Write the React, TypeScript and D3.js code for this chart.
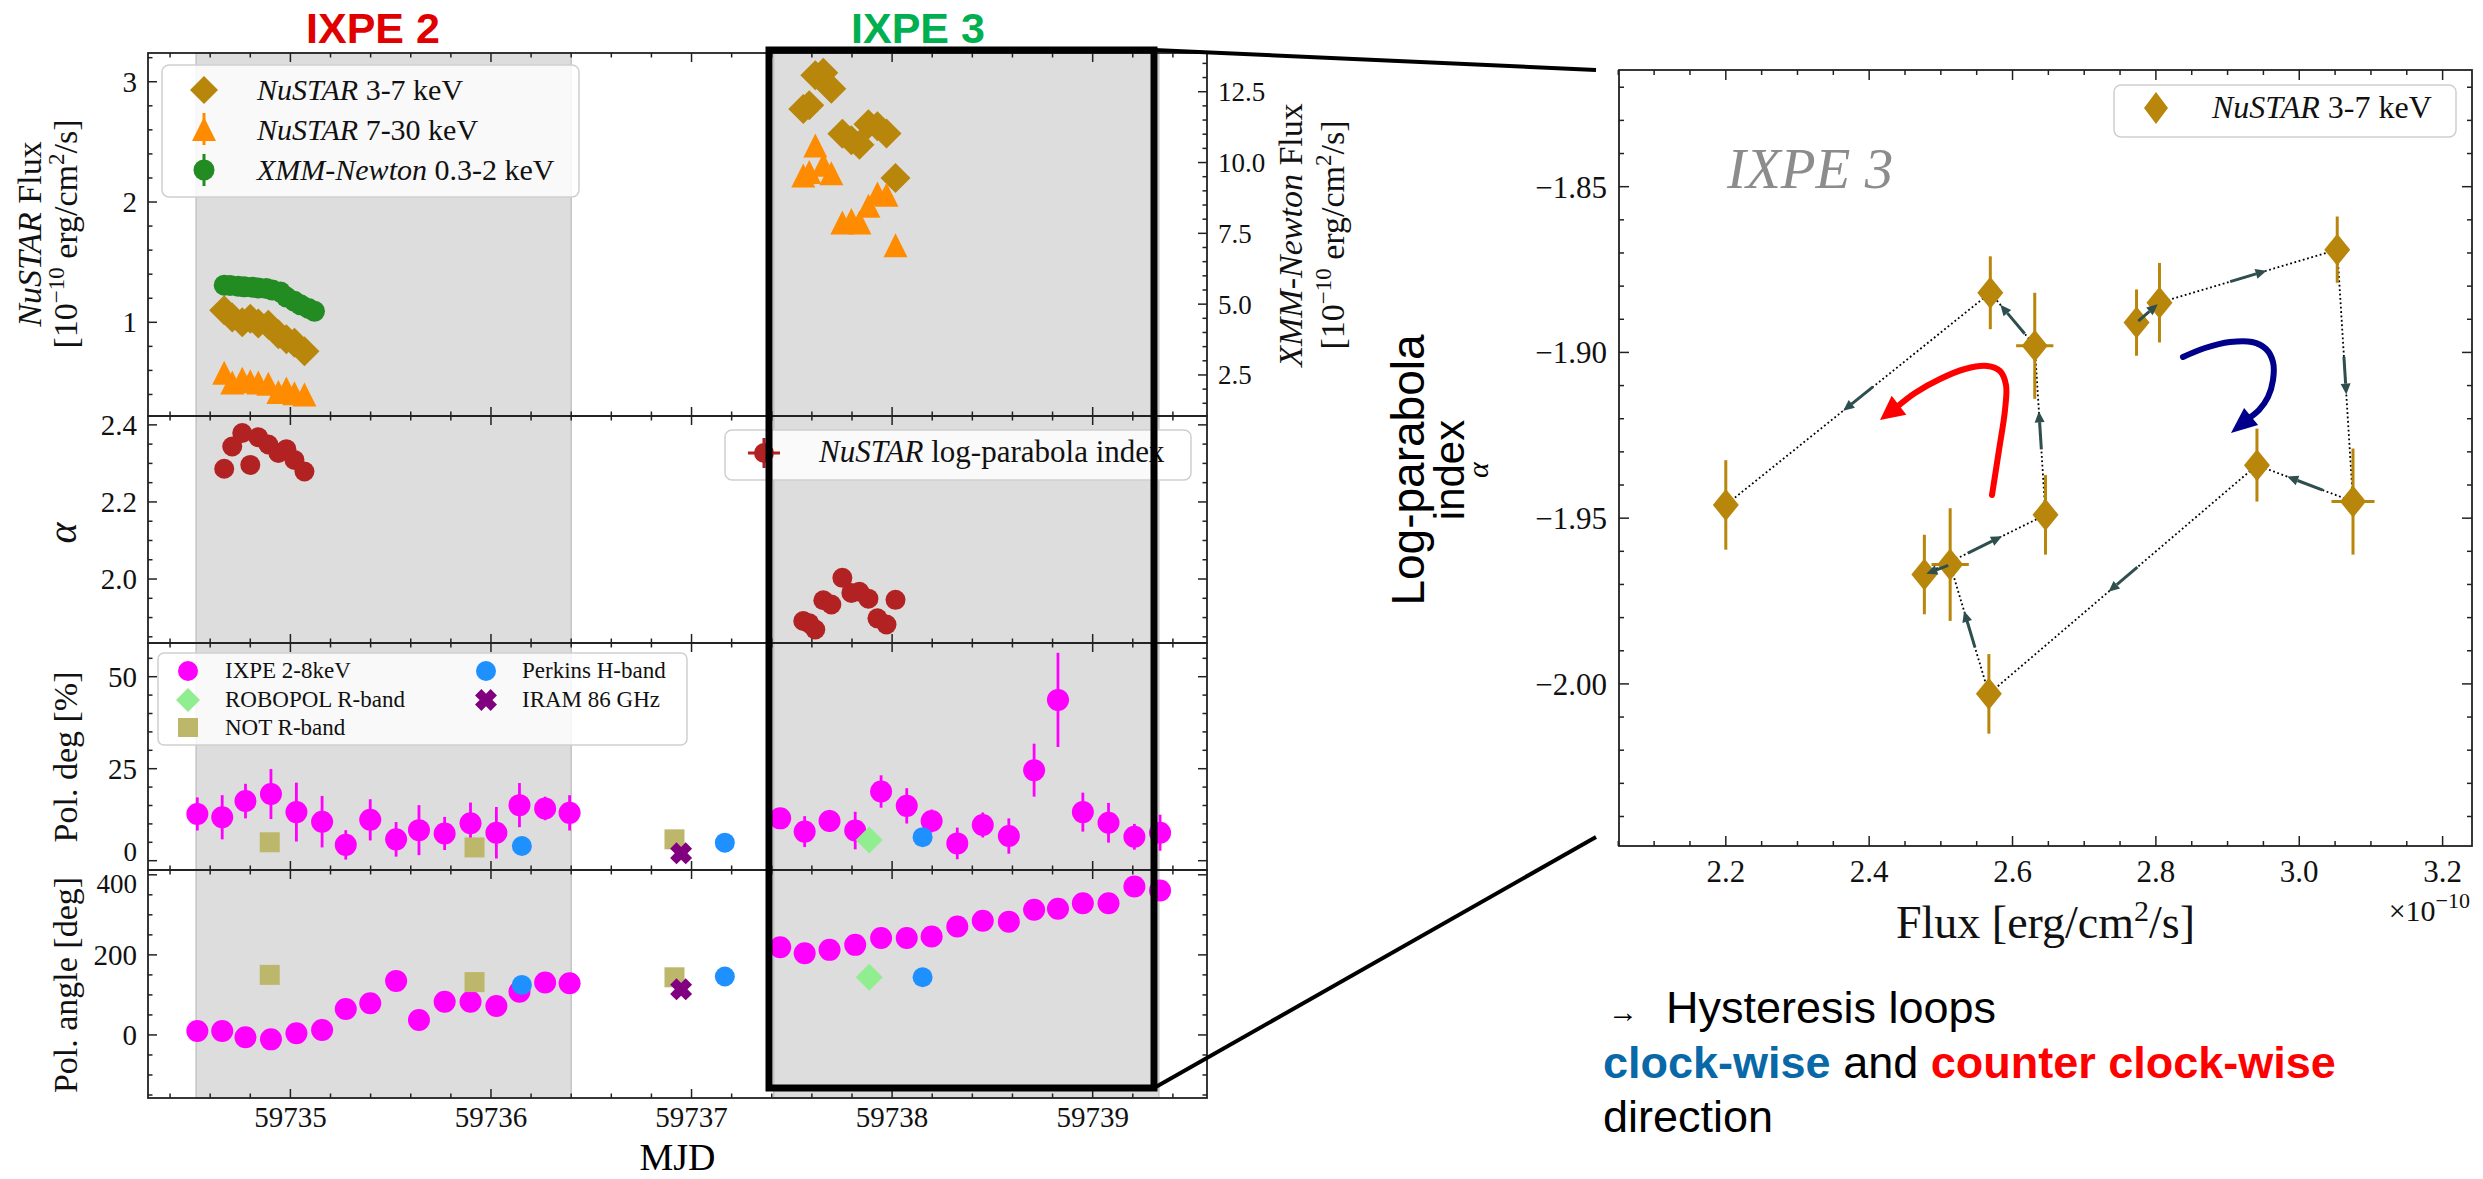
import React from "react";
import * as d3 from "d3";

const W = 2483;
const H = 1179;
const SERIF = "'Liberation Serif','Times New Roman',serif";
const SANS = "'Liberation Sans',Arial,Helvetica,sans-serif";
const AX = "#222";

// ---------------- data ----------------
// NuSTAR during IXPE 2
const nu2Time = [59734.67, 59734.71, 59734.76, 59734.80, 59734.84, 59734.89, 59734.94, 59734.98, 59735.02, 59735.07];
const nu2Flux37 = [1.10, 1.04, 1.00, 1.03, 0.99, 0.98, 0.90, 0.86, 0.83, 0.76];
const nu2Flux730 = [0.58, 0.50, 0.53, 0.51, 0.50, 0.49, 0.42, 0.45, 0.41, 0.40];
const nu2Alpha = [2.286, 2.344, 2.379, 2.296, 2.368, 2.349, 2.327, 2.337, 2.309, 2.279];

// XMM-Newton during IXPE 2 (right axis)
const xmmTime = [59734.67, 59734.70, 59734.74, 59734.77, 59734.81, 59734.84, 59734.88, 59734.91, 59734.95, 59734.98, 59735.02, 59735.05, 59735.09, 59735.12];
const xmmFlux = [5.67, 5.66, 5.63, 5.61, 5.60, 5.57, 5.55, 5.50, 5.43, 5.25, 5.10, 4.98, 4.85, 4.75];

// NuSTAR during IXPE 3 (time ordered)
const nu3Time = [59737.557, 59737.587, 59737.617, 59737.657, 59737.697, 59737.752, 59737.797, 59737.837, 59737.882, 59737.927, 59737.972, 59738.017];
const nu3Flux37 = [2.773, 2.805, 3.053, 3.075, 2.941, 2.567, 2.513, 2.477, 2.646, 2.631, 2.569, 2.200];
const nu3Flux37Err = [0.015, 0.015, 0.015, 0.03, 0.015, 0.015, 0.026, 0.015, 0.015, 0.026, 0.015, 0.015];
const nu3Flux730 = [2.22, 2.25, 2.47, 2.31, 2.24, 1.83, 1.85, 1.83, 1.97, 2.07, 2.06, 1.64];
const nu3Alpha = [1.891, 1.885, 1.869, 1.945, 1.934, 2.003, 1.964, 1.967, 1.949, 1.898, 1.882, 1.946];
const nu3AlphaErr = [0.010, 0.012, 0.010, 0.016, 0.011, 0.012, 0.017, 0.012, 0.012, 0.016, 0.011, 0.0135];

// IXPE polarization
const ixpeTime = [59734.536, 59734.66, 59734.776, 59734.903, 59735.03, 59735.158, 59735.276, 59735.398, 59735.527, 59735.641, 59735.769, 59735.898, 59736.027, 59736.142, 59736.27, 59736.392,
  59737.442, 59737.564, 59737.688, 59737.816, 59737.945, 59738.073, 59738.197, 59738.325, 59738.452, 59738.582, 59738.708, 59738.827, 59738.951, 59739.079, 59739.208, 59739.336];
const ixpeDeg = [12.7, 11.8, 16.2, 18.1, 13.2, 10.6, 4.3, 11.1, 5.8, 8.3, 7.4, 10.2, 7.6, 15.1, 14.2, 13.0,
  11.5, 7.9, 10.8, 8.2, 18.8, 14.9, 10.8, 4.7, 9.7, 6.7, 24.6, 43.7, 13.2, 10.3, 6.5, 7.6];
const ixpeDegErr = [4.5, 6, 4.7, 6.8, 8, 7, 4, 5.6, 4.7, 6.8, 4.5, 5.6, 7, 6, 3.2, 4.8,
  2.7, 4.2, 3, 5.1, 4.4, 4.8, 3.1, 4.3, 3.4, 4.8, 7.2, 12.8, 5.3, 5.4, 3.5, 4.9];
const ixpeAngle = [10, 10, -6, -11, 4, 12.5, 65, 79, 135, 37.5, 83, 83, 72.5, 108, 131, 129,
  219, 204, 212.5, 225, 242, 242, 246, 271, 285, 283, 312.5, 315, 329, 329, 371, 361];

// other polarization data
const robopolTime = [59737.886];
const robopolDeg = [5.6];
const robopolAngle = [144];
const notTime = [59734.897, 59735.918, 59736.915];
const notDeg = [5.0, 3.6, 5.8];
const notAngle = [150, 132, 144];
const perkinsTime = [59736.154, 59737.166, 59738.152];
const perkinsDeg = [4.0, 4.9, 6.4];
const perkinsAngle = [125, 146, 144];
const iramTime = [59736.948];
const iramDeg = [2.0];
const iramAngle = [114];

// IXPE windows
const ixpeWindows = [[59734.53, 59736.40], [59737.41, 59739.33]];

// tick labels
const mjdTicks = [59735, 59736, 59737, 59738, 59739];
const nuTicks = [1, 2, 3];
const xmmTicks = [2.5, 5.0, 7.5, 10.0, 12.5];
const alphaTicks = [2.0, 2.2, 2.4];
const degTicks = [0, 25, 50];
const angTicks = [0, 200, 400];
const fluxTicks = [2.2, 2.4, 2.6, 2.8, 3.0, 3.2];
const hystTicks = [-2.0, -1.95, -1.9, -1.85];

// ---------------- scales ----------------
const LX0 = 148, LX1 = 1207;
const P = [53, 416, 643, 870, 1098];
const xM = d3.scaleLinear().domain([59734.29, 59739.57]).range([LX0, LX1]);
const yNu = d3.scaleLinear().domain([0.221, 3.239]).range([P[1], P[0]]);
const yXmm = d3.scaleLinear().domain([1.051, 13.867]).range([P[1], P[0]]);
const yAl = d3.scaleLinear().domain([1.834, 2.423]).range([P[2], P[1]]);
const yDeg = d3.scaleLinear().domain([-2.53, 59.16]).range([P[3], P[2]]);
const yAng = d3.scaleLinear().domain([-157.5, 412]).range([P[4], P[3]]);

const RX0 = 1619, RX1 = 2472, RY0 = 70, RY1 = 846;
const xF = d3.scaleLinear().domain([2.051, 3.241]).range([RX0, RX1]);
const yA = d3.scaleLinear().domain([-2.0489, -1.8148]).range([RY1, RY0]);

// ---------------- helpers ----------------
const diamond = (cx: number, cy: number, w: number, h: number) =>
  `M${cx},${cy - h / 2}L${cx + w / 2},${cy}L${cx},${cy + h / 2}L${cx - w / 2},${cy}Z`;
const triangle = (cx: number, cy: number, s: number) =>
  `M${cx},${cy - s / 2}L${cx + s / 2},${cy + s / 2}L${cx - s / 2},${cy + s / 2}Z`;
const xMarker = (cx: number, cy: number, r: number, a: number) => {
  const pts = [[-a, -r], [a, -r], [a, -a], [r, -a], [r, a], [a, a], [a, r], [-a, r], [-a, a], [-r, a], [-r, -a], [-a, -a]];
  const c = Math.SQRT1_2;
  return "M" + pts.map(([px, py]) => `${cx + (px - py) * c},${cy + (px + py) * c}`).join("L") + "Z";
};
const minus = (s: string) => s.replace("-", "\u2212");

function minorRange(a: number, b: number, step: number, majors: number[]) {
  const n = Math.round((b - a) / step);
  return d3.range(0, n + 1).map((i) => +(a + i * step).toFixed(4)).filter((v) => !majors.some((m) => Math.abs(m - v) < step / 10));
}

function hTicks(scale: any, vals: number[], y: number, dir: number, len: number, key: string) {
  return vals.map((v, i) => (
    <line key={key + i} x1={scale(v)} x2={scale(v)} y1={y} y2={y + dir * len} stroke={AX} strokeWidth={1.5} />
  ));
}
function vTicks(scale: any, vals: number[], x: number, dir: number, len: number, key: string) {
  return vals.map((v, i) => (
    <line key={key + i} x1={x} x2={x + dir * len} y1={scale(v)} y2={scale(v)} stroke={AX} strokeWidth={1.5} />
  ));
}

function quiver(p: number[], q: number[]) {
  const dx = q[0] - p[0], dy = q[1] - p[1];
  const L = Math.hypot(dx, dy);
  const ux = dx / L, uy = dy / L;
  const la = Math.min(38, L * 0.85);
  const mx = (p[0] + q[0]) / 2, my = (p[1] + q[1]) / 2;
  const sx = mx - (ux * la) / 2, sy = my - (uy * la) / 2;
  const ex = mx + (ux * la) / 2, ey = my + (uy * la) / 2;
  const hl = 11, hw = 5;
  const bx = ex - ux * hl, by = ey - uy * hl;
  return {
    shaft: [sx, sy, bx, by],
    head: `M${ex},${ey}L${bx - uy * hw},${by + ux * hw}L${bx + uy * hw},${by - ux * hw}Z`,
  };
}

function curvedArrow(pts: number[][], tip: number[], hl: number, hw: number) {
  const last = pts[pts.length - 1];
  const dx = tip[0] - last[0], dy = tip[1] - last[1];
  const L = Math.hypot(dx, dy);
  const ux = dx / L, uy = dy / L;
  const bx = tip[0] - ux * hl, by = tip[1] - uy * hl;
  const line = d3.line().curve(d3.curveCatmullRom.alpha(0.5));
  const path = line([...pts, [bx + ux * 2, by + uy * 2]] as any) as string;
  const head = `M${tip[0]},${tip[1]}L${bx - uy * hw},${by + ux * hw}L${bx + uy * hw},${by - ux * hw}Z`;
  return { path, head };
}

const redArrowPts = [[1992, 495], [1999, 450], [2005, 410], [2006, 385], [2000, 371], [1987, 366], [1965, 369], [1940, 379], [1915, 393]];
const blueArrowPts = [[2183, 357], [2205, 348], [2230, 342], [2252, 342], [2266, 349], [2273, 362], [2273, 380], [2268, 397], [2259, 410]];

export default function App() {
  const mjdMinor = minorRange(59734.4, 59739.4, 0.2, mjdTicks);
  const nuMinor = minorRange(0.4, 3.2, 0.2, nuTicks);
  const xmmMinor = minorRange(1.5, 13.5, 0.5, xmmTicks);
  const alMinor = minorRange(1.85, 2.4, 0.05, alphaTicks);
  const degMinor = minorRange(0, 55, 5, degTicks);
  const angMinor = minorRange(-150, 400, 50, angTicks);
  const fMinor = minorRange(2.05, 3.2, 0.05, fluxTicks);
  const hMinor = minorRange(-2.04, -1.82, 0.01, hystTicks);

  const panelYs = [
    { y0: P[0], y1: P[1] },
    { y0: P[1], y1: P[2] },
    { y0: P[2], y1: P[3] },
    { y0: P[3], y1: P[4] },
  ];
  const MAJ = 9, MIN = 4.5;

  // hysteresis screen points
  const hp = nu3Flux37.map((f, i) => [xF(f), yA(-nu3Alpha[i])]);
  const quivers = hp.slice(0, -1).map((p, i) => quiver(p, hp[i + 1]));

  const red = curvedArrow(redArrowPts, [1880, 420], 24, 12);
  const blue = curvedArrow(blueArrowPts, [2231, 433], 26, 11);

  return (
    <div style={{ position: "absolute", left: 0, top: 0, width: W, height: H, background: "#fff" }}>
      <svg width={W} height={H} viewBox={`0 0 ${W} ${H}`} fontFamily={SERIF}>
        <rect width={W} height={H} fill="#fff" />
        <defs>
          {panelYs.map((p, i) => (
            <clipPath id={"clip" + i} key={"cp" + i}>
              <rect x={LX0} y={p.y0} width={LX1 - LX0} height={p.y1 - p.y0} />
            </clipPath>
          ))}
          <clipPath id="clipR">
            <rect x={RX0} y={RY0} width={RX1 - RX0} height={RY1 - RY0} />
          </clipPath>
        </defs>

        {/* IXPE windows */}
        {ixpeWindows.map((w, i) => (
          <rect key={"win" + i} x={xM(w[0])} y={P[0]} width={xM(w[1]) - xM(w[0])} height={P[4] - P[0]}
            fill="#dddddd" stroke="#c4c4c4" strokeWidth={1.5} />
        ))}

        {/* Panel 1: fluxes */}
        <g clipPath="url(#clip0)">
          {nu2Time.concat(nu3Time).map((t, i) => {
            const f = i < nu2Time.length ? nu2Flux37[i] : nu3Flux37[i - nu2Time.length];
            return <path key={"d37" + i} d={diamond(xM(t), yNu(f), 30, 30)} fill="#b8860b" />;
          })}
          {nu2Time.concat(nu3Time).map((t, i) => {
            const f = i < nu2Time.length ? nu2Flux730[i] : nu3Flux730[i - nu2Time.length];
            return <path key={"t730" + i} d={triangle(xM(t), yNu(f), 24)} fill="#ff8c00" />;
          })}
          {xmmTime.map((t, i) => (
            <circle key={"xmm" + i} cx={xM(t)} cy={yXmm(xmmFlux[i])} r={10.5} fill="#228b22" />
          ))}
        </g>

        {/* Panel 2: alpha */}
        <g clipPath="url(#clip1)">
          {nu2Time.concat(nu3Time).map((t, i) => {
            const a = i < nu2Time.length ? nu2Alpha[i] : nu3Alpha[i - nu2Time.length];
            return <circle key={"al" + i} cx={xM(t)} cy={yAl(a)} r={10} fill="#b22222" />;
          })}
        </g>

        {/* Panel 3: pol degree */}
        <g clipPath="url(#clip2)">
          {ixpeTime.map((t, i) => (
            <line key={"de" + i} x1={xM(t)} x2={xM(t)} y1={yDeg(ixpeDeg[i] - ixpeDegErr[i])} y2={yDeg(ixpeDeg[i] + ixpeDegErr[i])}
              stroke="#ff00ff" strokeWidth={2.8} />
          ))}
          {ixpeTime.map((t, i) => (
            <circle key={"dc" + i} cx={xM(t)} cy={yDeg(ixpeDeg[i])} r={11} fill="#ff00ff" />
          ))}
          {robopolTime.map((t, i) => (
            <path key={"rd" + i} d={diamond(xM(t), yDeg(robopolDeg[i]), 27, 27)} fill="#90ee90" />
          ))}
          {notTime.map((t, i) => (
            <rect key={"nd" + i} x={xM(t) - 10} y={yDeg(notDeg[i]) - 10} width={20} height={20} fill="#bdb76b" />
          ))}
          {perkinsTime.map((t, i) => (
            <circle key={"pd" + i} cx={xM(t)} cy={yDeg(perkinsDeg[i])} r={10} fill="#1e90ff" />
          ))}
          {iramTime.map((t, i) => (
            <path key={"id" + i} d={xMarker(xM(t), yDeg(iramDeg[i]), 11, 4.5)} fill="#800080" />
          ))}
        </g>

        {/* Panel 4: pol angle */}
        <g clipPath="url(#clip3)">
          {ixpeTime.map((t, i) => (
            <circle key={"ac" + i} cx={xM(t)} cy={yAng(ixpeAngle[i])} r={11} fill="#ff00ff" />
          ))}
          {robopolTime.map((t, i) => (
            <path key={"ra" + i} d={diamond(xM(t), yAng(robopolAngle[i]), 27, 27)} fill="#90ee90" />
          ))}
          {notTime.map((t, i) => (
            <rect key={"na" + i} x={xM(t) - 10} y={yAng(notAngle[i]) - 10} width={20} height={20} fill="#bdb76b" />
          ))}
          {perkinsTime.map((t, i) => (
            <circle key={"pa" + i} cx={xM(t)} cy={yAng(perkinsAngle[i])} r={10} fill="#1e90ff" />
          ))}
          {iramTime.map((t, i) => (
            <path key={"ia" + i} d={xMarker(xM(t), yAng(iramAngle[i]), 11, 4.5)} fill="#800080" />
          ))}
        </g>

        {/* axes frames and ticks for left figure */}
        {panelYs.map((p, k) => (
          <g key={"ax" + k}>
            <rect x={LX0} y={p.y0} width={LX1 - LX0} height={p.y1 - p.y0} fill="none" stroke={AX} strokeWidth={1.8} />
            {hTicks(xM, mjdTicks, p.y0, 1, MAJ, "tM" + k)}
            {hTicks(xM, mjdMinor, p.y0, 1, MIN, "tm" + k)}
            {hTicks(xM, mjdTicks, p.y1, -1, MAJ, "bM" + k)}
            {hTicks(xM, mjdMinor, p.y1, -1, MIN, "bm" + k)}
          </g>
        ))}
        {/* y ticks */}
        {vTicks(yNu, nuTicks, LX0, 1, MAJ, "nuM")}
        {vTicks(yNu, nuMinor, LX0, 1, MIN, "num")}
        {vTicks(yXmm, xmmTicks, LX1, -1, MAJ, "xmM")}
        {vTicks(yXmm, xmmMinor, LX1, -1, MIN, "xmm")}
        {[LX0, LX1].map((xx, j) => (
          <g key={"yt" + j}>
            {vTicks(yAl, alphaTicks, xx, j === 0 ? 1 : -1, MAJ, "alM" + j)}
            {vTicks(yAl, alMinor, xx, j === 0 ? 1 : -1, MIN, "alm" + j)}
            {vTicks(yDeg, degTicks, xx, j === 0 ? 1 : -1, MAJ, "dgM" + j)}
            {vTicks(yDeg, degMinor, xx, j === 0 ? 1 : -1, MIN, "dgm" + j)}
            {vTicks(yAng, angTicks, xx, j === 0 ? 1 : -1, MAJ, "agM" + j)}
            {vTicks(yAng, angMinor, xx, j === 0 ? 1 : -1, MIN, "agm" + j)}
          </g>
        ))}

        {/* tick labels */}
        <g fontSize={29} fill="#111">
          {nuTicks.map((v) => (
            <text key={"nl" + v} x={LX0 - 11} y={yNu(v)} dy="0.35em" textAnchor="end">{String(v)}</text>
          ))}
          {xmmTicks.map((v) => (
            <text key={"xl" + v} x={LX1 + 11} y={yXmm(v)} dy="0.35em" textAnchor="start" fontSize={27}>{v.toFixed(1)}</text>
          ))}
          {alphaTicks.map((v) => (
            <text key={"al" + v} x={LX0 - 11} y={yAl(v)} dy="0.35em" textAnchor="end">{v.toFixed(1)}</text>
          ))}
          {degTicks.map((v) => (
            <text key={"dl" + v} x={LX0 - 11} y={yDeg(v) - (v === 0 ? 9 : 0)} dy="0.35em" textAnchor="end"
              fontSize={v === 0 ? 27 : 29}>{String(v)}</text>
          ))}
          {angTicks.map((v) => (
            <text key={"gl" + v} x={LX0 - 11} y={yAng(v) + (v === 400 ? 9 : 0)} dy="0.35em" textAnchor="end"
              fontSize={v === 400 ? 27 : 29}>{String(v)}</text>
          ))}
          {mjdTicks.map((v) => (
            <text key={"ml" + v} x={xM(v)} y={1127} textAnchor="middle">{String(v)}</text>
          ))}
        </g>

        {/* axis labels */}
        <text x={(LX0 + LX1) / 2} y={1170} textAnchor="middle" fontSize={38}>MJD</text>
        <g fontSize={34} fill="#111">
          <text transform={`translate(41,234) rotate(-90)`} textAnchor="middle">
            <tspan fontStyle="italic">NuSTAR</tspan> Flux
          </text>
          <text transform={`translate(77,234) rotate(-90)`} textAnchor="middle">
            [10<tspan dy={-13} fontSize={23}>{"\u221210"}</tspan><tspan dy={13}> erg/cm</tspan>
            <tspan dy={-13} fontSize={23}>2</tspan><tspan dy={13}>/s]</tspan>
          </text>
          <text transform={`translate(1302,235) rotate(-90)`} textAnchor="middle">
            <tspan fontStyle="italic">XMM-Newton</tspan> Flux
          </text>
          <text transform={`translate(1344,235) rotate(-90)`} textAnchor="middle">
            [10<tspan dy={-13} fontSize={23}>{"\u221210"}</tspan><tspan dy={13}> erg/cm</tspan>
            <tspan dy={-13} fontSize={23}>2</tspan><tspan dy={13}>/s]</tspan>
          </text>
          <text transform={`translate(76,533) rotate(-90)`} textAnchor="middle" fontSize={40} fontStyle="italic">α</text>
          <text transform={`translate(77,757) rotate(-90)`} textAnchor="middle">Pol. deg [%]</text>
          <text transform={`translate(77,985) rotate(-90)`} textAnchor="middle">Pol. angle [deg]</text>
        </g>

        {/* legend panel 1 */}
        <g>
          <rect x={162} y={65} width={417} height={132} rx={7} fill="#fff" fillOpacity={0.82} stroke="#cfcfcf" strokeWidth={1.5} />
          <path d={diamond(204, 90, 28, 28)} fill="#b8860b" />
          <line x1={204} x2={204} y1={113} y2={145} stroke="#ff8c00" strokeWidth={3} />
          <path d={triangle(204, 129, 24)} fill="#ff8c00" />
          <line x1={204} x2={204} y1={154} y2={186} stroke="#228b22" strokeWidth={3} />
          <circle cx={204} cy={170} r={10.5} fill="#228b22" />
          <g fontSize={30} fill="#111">
            <text x={257} y={100}><tspan fontStyle="italic">NuSTAR</tspan> 3-7 keV</text>
            <text x={257} y={140}><tspan fontStyle="italic">NuSTAR</tspan> 7-30 keV</text>
            <text x={257} y={180}><tspan fontStyle="italic">XMM-Newton</tspan> 0.3-2 keV</text>
          </g>
        </g>

        {/* legend panel 2 */}
        <g>
          <rect x={725} y={430} width={466} height={50} rx={7} fill="#fff" fillOpacity={0.85} stroke="#cfcfcf" strokeWidth={1.5} />
          <line x1={748} x2={780} y1={453} y2={453} stroke="#b22222" strokeWidth={3} />
          <line x1={764} x2={764} y1={438} y2={468} stroke="#b22222" strokeWidth={3} />
          <circle cx={764} cy={453} r={10} fill="#b22222" />
          <text x={819} y={462} fontSize={31} fill="#111"><tspan fontStyle="italic">NuSTAR</tspan> log-parabola index</text>
        </g>

        {/* legend panel 3 */}
        <g>
          <rect x={158} y={653} width={529} height={92} rx={6} fill="#fff" fillOpacity={0.82} stroke="#cfcfcf" strokeWidth={1.5} />
          <circle cx={188} cy={671} r={10} fill="#ff00ff" />
          <path d={diamond(188, 700, 24, 24)} fill="#90ee90" />
          <rect x={178} y={718} width={20} height={19} fill="#bdb76b" />
          <circle cx={486} cy={671} r={10} fill="#1e90ff" />
          <path d={xMarker(486, 700, 11, 4.5)} fill="#800080" />
          <g fontSize={23} fill="#111">
            <text x={225} y={678}>IXPE 2-8keV</text>
            <text x={225} y={707}>ROBOPOL R-band</text>
            <text x={225} y={735}>NOT R-band</text>
            <text x={522} y={678}>Perkins H-band</text>
            <text x={522} y={707}>IRAM 86 GHz</text>
          </g>
        </g>

        {/* IXPE 3 highlight box */}
        <rect x={769} y={50} width={385} height={1038} fill="none" stroke="#000" strokeWidth={7} />

        {/* connector lines */}
        <line x1={1154} y1={50} x2={1596} y2={70} stroke="#000" strokeWidth={4} />
        <line x1={1154} y1={1088} x2={1596} y2={837} stroke="#000" strokeWidth={4} />

        {/* top labels */}
        <text x={373} y={43} textAnchor="middle" fontFamily={SANS} fontWeight="bold" fontSize={43} fill="#e00000">IXPE 2</text>
        <text x={918} y={43} textAnchor="middle" fontFamily={SANS} fontWeight="bold" fontSize={43} fill="#00b050">IXPE 3</text>

        {/* ---------------- right: hysteresis ---------------- */}
        <g clipPath="url(#clipR)">
          {hp.slice(0, -1).map((p, i) => (
            <line key={"dl" + i} x1={p[0]} y1={p[1]} x2={hp[i + 1][0]} y2={hp[i + 1][1]}
              stroke="#000" strokeWidth={1.8} strokeDasharray="1.8 2.6" />
          ))}
          {nu3Flux37.map((f, i) => (
            <g key={"he" + i}>
              <line x1={xF(f)} x2={xF(f)} y1={yA(-nu3Alpha[i] - nu3AlphaErr[i])} y2={yA(-nu3Alpha[i] + nu3AlphaErr[i])}
                stroke="#b8860b" strokeWidth={3} />
              <line x1={xF(f - nu3Flux37Err[i])} x2={xF(f + nu3Flux37Err[i])} y1={yA(-nu3Alpha[i])} y2={yA(-nu3Alpha[i])}
                stroke="#b8860b" strokeWidth={3} />
            </g>
          ))}
          {nu3Flux37.map((f, i) => (
            <path key={"hd" + i} d={diamond(xF(f), yA(-nu3Alpha[i]), 26, 32)} fill="#b8860b" />
          ))}
          {quivers.map((q, i) => (
            <g key={"qv" + i}>
              <line x1={q.shaft[0]} y1={q.shaft[1]} x2={q.shaft[2]} y2={q.shaft[3]} stroke="#2f4f4f" strokeWidth={3} />
              <path d={q.head} fill="#2f4f4f" />
            </g>
          ))}
          <path d={red.path} fill="none" stroke="#ff0000" strokeWidth={6} strokeLinecap="round" />
          <path d={red.head} fill="#ff0000" />
          <path d={blue.path} fill="none" stroke="#00008b" strokeWidth={6} strokeLinecap="round" />
          <path d={blue.head} fill="#00008b" />
        </g>
        <rect x={RX0} y={RY0} width={RX1 - RX0} height={RY1 - RY0} fill="none" stroke={AX} strokeWidth={1.8} />
        {hTicks(xF, fluxTicks, RY1, -1, 10, "rbM")}
        {hTicks(xF, fMinor, RY1, -1, 5, "rbm")}
        {hTicks(xF, fluxTicks, RY0, 1, 10, "rtM")}
        {hTicks(xF, fMinor, RY0, 1, 5, "rtm")}
        {vTicks(yA, hystTicks, RX0, 1, 10, "rlM")}
        {vTicks(yA, hMinor, RX0, 1, 5, "rlm")}
        {vTicks(yA, hystTicks, RX1, -1, 10, "rrM")}
        {vTicks(yA, hMinor, RX1, -1, 5, "rrm")}
        <g fontSize={31} fill="#111">
          {fluxTicks.map((v) => (
            <text key={"fl" + v} x={xF(v)} y={882} textAnchor="middle">{v.toFixed(1)}</text>
          ))}
          {hystTicks.map((v) => (
            <text key={"hl" + v} x={RX0 - 12} y={yA(v)} dy="0.35em" textAnchor="end">{minus(v.toFixed(2))}</text>
          ))}
          <text x={2470} y={921} textAnchor="end" fontSize={30}>×10<tspan dy={-13} fontSize={22}>{"\u221210"}</tspan></text>
        </g>
        <text x={(RX0 + RX1) / 2} y={938} textAnchor="middle" fontSize={46} fill="#111">
          Flux [erg/cm<tspan dy={-17} fontSize={30}>2</tspan><tspan dy={17}>/s]</tspan>
        </text>
        <text x={1727} y={188} fontSize={57} fontStyle="italic" fill="#8c8c8c">IXPE 3</text>

        {/* legend right */}
        <rect x={2114} y={85} width={342} height={52} rx={7} fill="#fff" fillOpacity={0.85} stroke="#cfcfcf" strokeWidth={1.5} />
        <path d={diamond(2156, 108, 24, 32)} fill="#b8860b" />
        <text x={2212} y={118} fontSize={32} fill="#111"><tspan fontStyle="italic">NuSTAR</tspan> 3-7 keV</text>

        {/* big side label */}
        <g fill="#000" fontFamily={SANS}>
          <text transform="translate(1424,470) rotate(-90)" textAnchor="middle" fontSize={46}>Log-parabola</text>
          <text transform="translate(1464,470) rotate(-90)" textAnchor="middle" fontSize={42}>index</text>
          <text transform="translate(1488,470) rotate(-90)" textAnchor="middle" fontSize={30} fontFamily={SERIF} fontStyle="italic">α</text>
        </g>

        {/* annotation text */}
        <g fontFamily={SANS} fontSize={45} fill="#000">
          <text x={1608} y={1022} fontSize={30}>→</text>
          <text x={1666} y={1023}>Hysteresis loops</text>
          <text x={1603} y={1078}>
            <tspan fontWeight="bold" fill="#0868a8">clock-wise</tspan>
            <tspan> and </tspan>
            <tspan fontWeight="bold" fill="#ff0000">counter clock-wise</tspan>
          </text>
          <text x={1603} y={1132}>direction</text>
        </g>
      </svg>
    </div>
  );
}
